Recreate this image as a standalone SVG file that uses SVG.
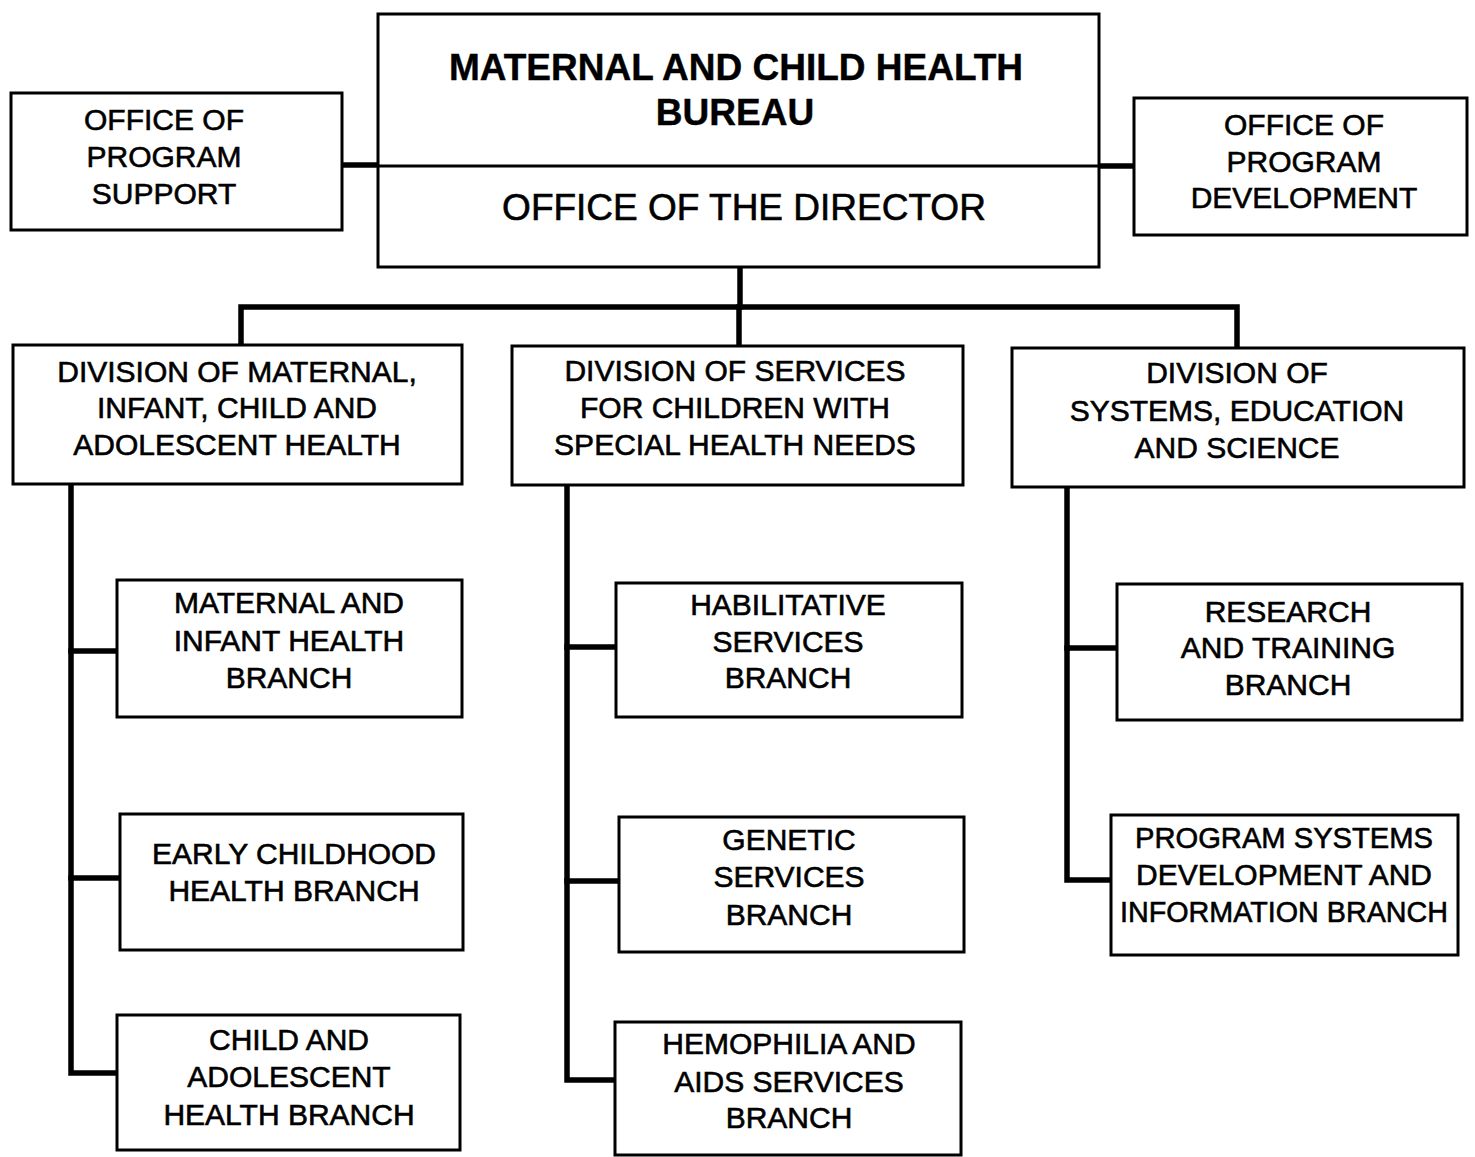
<svg xmlns="http://www.w3.org/2000/svg" width="1475" height="1157" viewBox="0 0 1475 1157">
  <style>
    .box { fill: #fff; stroke: #000; stroke-width: 3; }
    .wire { fill: none; stroke: #000; stroke-width: 5.5; stroke-linejoin: miter; stroke-linecap: square; }
    text { font-family: "Liberation Sans", Arial, Helvetica, sans-serif; font-size: 30px; fill: #000; stroke: #000; stroke-width: 0.6; text-anchor: middle; }
    .head { font-size: 37px; font-weight: bold; stroke-width: 0.4; }
    .dir { font-size: 37px; }
  </style>
  <rect width="1475" height="1157" fill="#fff"/>

  <!-- connectors -->
  <g id="connectors">
    <path class="wire" d="M342 165 H378"/>
    <path class="wire" d="M1099 166 H1134"/>
    <path class="wire" d="M740 268 V307"/>
    <path class="wire" d="M241 345 V307 H1237 V348"/>
    <path class="wire" d="M739 307 V346"/>
    <path class="wire" d="M71 484 V1073 H117"/>
    <path class="wire" d="M71 651 H117"/>
    <path class="wire" d="M71 878 H120"/>
    <path class="wire" d="M567 485 V1080 H615"/>
    <path class="wire" d="M567 647 H616"/>
    <path class="wire" d="M567 881 H619"/>
    <path class="wire" d="M1067 487 V880 H1111"/>
    <path class="wire" d="M1067 648 H1117"/>
  </g>

  <!-- bureau / office of the director -->
  <g id="bureau">
    <rect class="box" x="378" y="14" width="721" height="253"/>
    <line x1="378" y1="166" x2="1099" y2="166" stroke="#000" stroke-width="3"/>
    <text class="head" x="736" y="80">MATERNAL AND CHILD HEALTH</text>
    <text class="head" x="735" y="125">BUREAU</text>
    <text class="dir" x="744" y="220">OFFICE OF THE DIRECTOR</text>
  </g>

  <g id="program-support">
    <rect class="box" x="11" y="93" width="331" height="137"/>
    <text x="164" y="130">OFFICE OF</text>
    <text x="164" y="167">PROGRAM</text>
    <text x="164" y="204">SUPPORT</text>
  </g>

  <g id="program-development">
    <rect class="box" x="1134" y="98" width="333" height="137"/>
    <text x="1304" y="135">OFFICE OF</text>
    <text x="1304" y="172">PROGRAM</text>
    <text x="1304" y="208">DEVELOPMENT</text>
  </g>

  <!-- divisions -->
  <g id="div-mcah">
    <rect class="box" x="13" y="345" width="449" height="139"/>
    <text x="237" y="382">DIVISION OF MATERNAL,</text>
    <text x="237" y="418">INFANT, CHILD AND</text>
    <text x="237" y="455">ADOLESCENT HEALTH</text>
  </g>

  <g id="div-cshn">
    <rect class="box" x="512" y="346" width="451" height="139"/>
    <text x="735" y="381">DIVISION OF SERVICES</text>
    <text x="735" y="418">FOR CHILDREN WITH</text>
    <text x="735" y="455">SPECIAL HEALTH NEEDS</text>
  </g>

  <g id="div-ses">
    <rect class="box" x="1012" y="348" width="452" height="139"/>
    <text x="1237" y="383">DIVISION OF</text>
    <text x="1237" y="421">SYSTEMS, EDUCATION</text>
    <text x="1237" y="458">AND SCIENCE</text>
  </g>

  <!-- branches: maternal, infant, child and adolescent health -->
  <g id="br-maternal-infant">
    <rect class="box" x="117" y="580" width="345" height="137"/>
    <text x="289" y="613">MATERNAL AND</text>
    <text x="289" y="651">INFANT HEALTH</text>
    <text x="289" y="688">BRANCH</text>
  </g>

  <g id="br-early-childhood">
    <rect class="box" x="120" y="814" width="343" height="136"/>
    <text x="294" y="864">EARLY CHILDHOOD</text>
    <text x="294" y="901">HEALTH BRANCH</text>
  </g>

  <g id="br-child-adolescent">
    <rect class="box" x="117" y="1015" width="343" height="135"/>
    <text x="289" y="1050">CHILD AND</text>
    <text x="289" y="1087">ADOLESCENT</text>
    <text x="289" y="1125">HEALTH BRANCH</text>
  </g>

  <!-- branches: children with special health needs -->
  <g id="br-habilitative">
    <rect class="box" x="616" y="583" width="346" height="134"/>
    <text x="788" y="615">HABILITATIVE</text>
    <text x="788" y="652">SERVICES</text>
    <text x="788" y="688">BRANCH</text>
  </g>

  <g id="br-genetic">
    <rect class="box" x="619" y="817" width="345" height="135"/>
    <text x="789" y="850">GENETIC</text>
    <text x="789" y="887">SERVICES</text>
    <text x="789" y="925">BRANCH</text>
  </g>

  <g id="br-hemophilia-aids">
    <rect class="box" x="615" y="1022" width="346" height="133"/>
    <text x="789" y="1054">HEMOPHILIA AND</text>
    <text x="789" y="1092">AIDS SERVICES</text>
    <text x="789" y="1128">BRANCH</text>
  </g>

  <!-- branches: systems, education and science -->
  <g id="br-research-training">
    <rect class="box" x="1117" y="584" width="345" height="136"/>
    <text x="1288" y="622">RESEARCH</text>
    <text x="1288" y="658">AND TRAINING</text>
    <text x="1288" y="695">BRANCH</text>
  </g>

  <g id="br-program-systems">
    <rect class="box" x="1111" y="815" width="347" height="140"/>
    <text x="1284" y="848" textLength="298" lengthAdjust="spacingAndGlyphs">PROGRAM SYSTEMS</text>
    <text x="1284" y="885" textLength="296" lengthAdjust="spacingAndGlyphs">DEVELOPMENT AND</text>
    <text x="1284" y="922" textLength="328" lengthAdjust="spacingAndGlyphs">INFORMATION BRANCH</text>
  </g>
</svg>
